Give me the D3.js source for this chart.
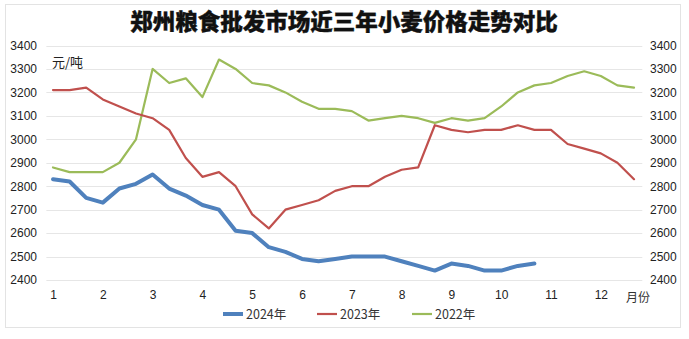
<!DOCTYPE html>
<html><head><meta charset="utf-8">
<script src="https://cdn.jsdelivr.net/npm/d3@7"></script>
<style>
html,body{margin:0;padding:0;background:#fff;}
svg{display:block;font-family:"Microsoft YaHei","Noto Sans CJK SC","Noto Sans",sans-serif;}
</style></head>
<body><svg id="c" width="689" height="339"></svg>
<script>
const title = "郑州粮食批发市场近三年小麦价格走势对比";
const unitLabel = "元/吨";
const xAxisLabel = "月份";
const monthLabels = ["1","2","3","4","5","6","7","8","9","10","11","12"];
const yTicks = [2400,2500,2600,2700,2800,2900,3000,3100,3200,3300,3400];
const seriesNames = ["2024年","2023年","2022年"];
const colors = ["#4F81BD","#C0504D","#9BBB59"];
const values2024 = [2830,2820,2750,2730,2790,2810,2850,2790,2760,2720,2700,2610,2600,2540,2520,2490,2480,2490,2500,2500,2500,2480,2460,2440,2470,2460,2440,2440,2460,2470];
const values2023 = [3210,3210,3220,3170,3140,3110,3090,3040,2920,2840,2860,2800,2680,2620,2700,2720,2740,2780,2800,2800,2840,2870,2880,3060,3040,3030,3040,3040,3060,3040,3040,2980,2960,2940,2900,2830];
const values2022 = [2880,2860,2860,2860,2900,3000,3300,3240,3260,3180,3340,3300,3240,3230,3200,3160,3130,3130,3120,3080,3090,3100,3090,3070,3090,3080,3090,3140,3200,3230,3240,3270,3290,3270,3230,3220];
const allSeries = [values2024, values2023, values2022];
const widths = [4, 2.2, 2.2];

const svg = d3.select("#c");
// frame
svg.append("rect").attr("x",5.5).attr("y",4.5).attr("width",675).attr("height",323)
  .attr("fill","#fff").attr("stroke","#e3e3e3");

const x = d3.scaleLinear().domain([0,35]).range([53,634]);
const y = d3.scaleLinear().domain([2400,3400]).range([280,45.5]);

// gridlines
svg.append("g").selectAll("line").data(yTicks).join("line")
  .attr("x1",x(-0.4)).attr("x2",x(35.5))
  .attr("y1",d=>Math.round(y(d))+0.5).attr("y2",d=>Math.round(y(d))+0.5)
  .attr("stroke","#e6e6e6").attr("stroke-width",1);

const fmt = d3.format("d");
// left axis
const leftAxis = d3.axisLeft(y).tickValues(yTicks).tickFormat(fmt).tickSize(0).tickPadding(0);
const gl = svg.append("g").attr("transform","translate(37,0)").call(leftAxis);
gl.select(".domain").remove();
gl.selectAll("text").attr("font-size",12).attr("fill","#222").attr("font-family","'Liberation Sans',Arial,sans-serif");
// right axis
const rightAxis = d3.axisRight(y).tickValues(yTicks).tickFormat(fmt).tickSize(0).tickPadding(0);
const gr = svg.append("g").attr("transform","translate(650,0)").call(rightAxis);
gr.select(".domain").remove();
gr.selectAll("text").attr("font-size",12).attr("fill","#222").attr("font-family","'Liberation Sans',Arial,sans-serif");

// bottom axis
const tickIdx = monthLabels.map((m,i)=>i*3);
const bottomAxis = d3.axisBottom(x).tickValues(tickIdx).tickFormat((d,i)=>monthLabels[i]).tickSize(0).tickPadding(0);
const gb = svg.append("g").attr("transform","translate(0,290)").call(bottomAxis);
gb.select(".domain").remove();
gb.selectAll("text").attr("font-size",12).attr("fill","#222").attr("font-family","'Liberation Sans',Arial,sans-serif");

svg.append("text").attr("x",638).attr("y",302).attr("text-anchor","middle")
  .attr("font-size",12).attr("fill","#333").text(xAxisLabel);
svg.append("text").attr("x",52).attr("y",67)
  .attr("font-size",13).attr("fill","#222").text(unitLabel);

// title
svg.append("text").attr("x",344).attr("y",30).attr("text-anchor","middle")
  .attr("font-size",22.5).attr("font-weight",900).attr("fill","#111")
  .attr("stroke","#111").attr("stroke-width",0.4).text(title);

// lines
const line = d3.line().x((d,i)=>x(i)).y(d=>y(d));
[2,1,0].forEach(k=>{
  svg.append("path").datum(allSeries[k]).attr("d",line)
    .attr("fill","none").attr("stroke",colors[k]).attr("stroke-width",widths[k])
    .attr("stroke-linejoin","round").attr("stroke-linecap","round");
});

// legend
const legX = [223,317,412];
seriesNames.forEach((n,k)=>{
  svg.append("line").attr("x1",legX[k]).attr("x2",legX[k]+20).attr("y1",314).attr("y2",314)
    .attr("stroke",colors[k]).attr("stroke-width",k===0?4:2.2);
  svg.append("text").attr("x",legX[k]+23).attr("y",318.5).attr("font-size",12.5)
    .attr("fill","#333").text(n);
});
</script></body></html>
